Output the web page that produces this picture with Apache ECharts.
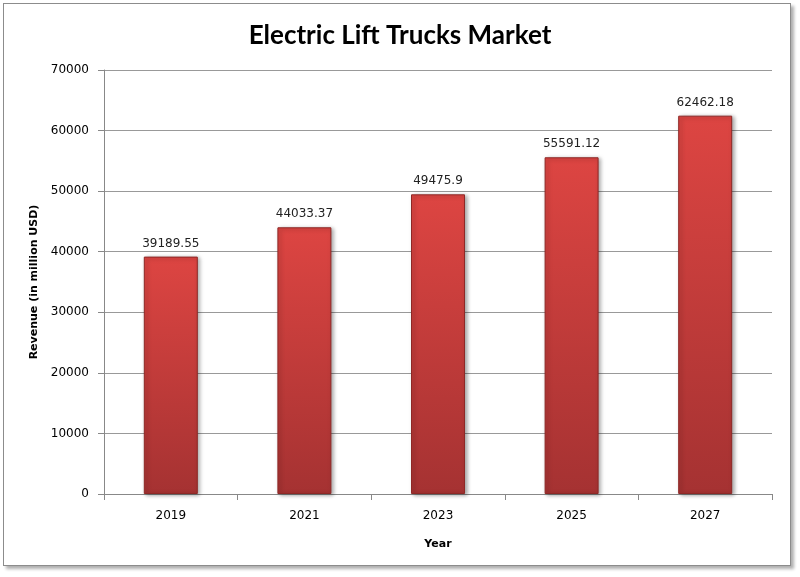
<!DOCTYPE html>
<html>
<head>
<meta charset="utf-8">
<script src="https://cdn.jsdelivr.net/npm/echarts@6/dist/echarts.min.js"></script>
<style>
  html, body { margin: 0; padding: 0; background: #fff; }
  #frame { position: absolute; left: 3px; top: 3px; width: 786px; height: 561px;
           border: 1px solid #8c8c8c; box-shadow: 3px 3px 3px #b0b0b0; background: #fff; }
  #mainChart { position: absolute; left: 0; top: 0; width: 800px; height: 577px; }
</style>
</head>
<body>
<div id="frame"></div>
<div id="mainChart"></div>
<script>
// data
var years = ['2019', '2021', '2023', '2025', '2027'];
var revenue = [39189.55, 44033.37, 49475.9, 55591.12, 62462.18];
var revenueLabels = ['39189.55', '44033.37', '49475.9', '55591.12', '62462.18'];

var chartDom = document.getElementById('mainChart');
var myChart = echarts.init(chartDom);

var barColor = new echarts.graphic.LinearGradient(0, 0, 0, 1, [
    { offset: 0, color: '#dd4542' },
    { offset: 1, color: '#a53232' }
]);

var option = {
    title: {
        text: 'Electric Lift Trucks Market',
        left: 'center',
        top: 18,
        textStyle: { fontFamily: 'Lato', fontWeight: 'bold', fontSize: 26, color: '#000' }
    },
    grid: { left: 104, right: 28, top: 70, bottom: 83 },
    xAxis: {
        type: 'category',
        data: years,
        name: 'Year',
        nameLocation: 'middle',
        nameGap: 45,
        nameTextStyle: { fontFamily: 'DejaVu Sans', fontWeight: 'bold', fontSize: 11, color: '#000' },
        axisLine: { lineStyle: { color: '#888' } },
        axisTick: { show: true, length: 6, lineStyle: { color: '#888' } },
        axisLabel: { fontFamily: 'DejaVu Sans', fontSize: 12, color: '#000', margin: 16 }
    },
    yAxis: {
        type: 'value',
        min: 0,
        max: 70000,
        interval: 10000,
        name: 'Revenue (in million USD)',
        nameLocation: 'middle',
        nameGap: 63,
        nameTextStyle: { fontFamily: 'DejaVu Sans', fontWeight: 'bold', fontSize: 11, color: '#000' },
        axisLine: { show: true, lineStyle: { color: '#888' } },
        axisTick: { show: true, length: 6, lineStyle: { color: '#888' } },
        axisLabel: { fontFamily: 'DejaVu Sans', fontSize: 12, color: '#000', margin: 15,
                     formatter: function (v) { return String(v); } },
        splitLine: { lineStyle: { color: '#999' } }
    },
    series: [{
        name: 'Revenue',
        type: 'bar',
        data: revenue,
        barWidth: 54,
        itemStyle: { color: barColor, borderColor: '#8e2826', borderWidth: 1,
                     shadowColor: 'rgba(0,0,0,0.35)', shadowBlur: 4, shadowOffsetX: 2, shadowOffsetY: 1 },
        label: {
            show: true,
            position: 'top',
            distance: 7,
            fontFamily: 'DejaVu Sans',
            fontSize: 12,
            color: '#222',
            formatter: function (p) { return revenueLabels[p.dataIndex]; }
        }
    }]
};

myChart.setOption(option);
</script>
</body>
</html>
